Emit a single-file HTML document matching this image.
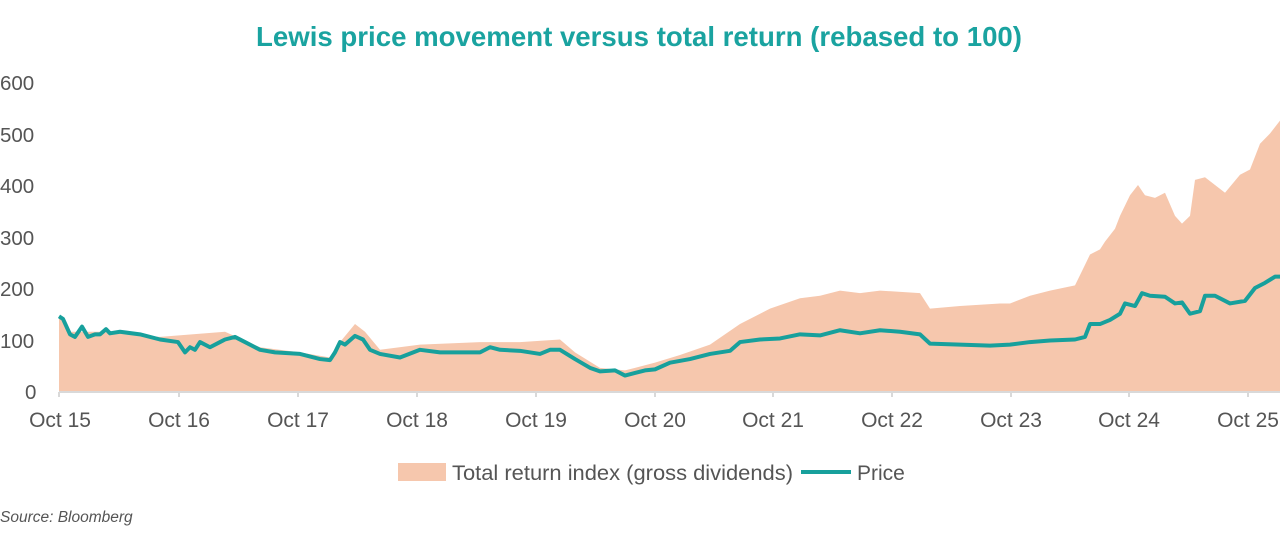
<!DOCTYPE html>
<html><head><meta charset="utf-8"><style>
body{margin:0;background:#fff;width:1280px;height:546px;overflow:hidden;font-family:"Liberation Sans",sans-serif}
</style></head><body>
<svg width="1280" height="546" xmlns="http://www.w3.org/2000/svg" font-family="Liberation Sans, sans-serif">
<text x="639" y="46" text-anchor="middle" font-size="28" font-weight="bold" fill="#1aa3a0" textLength="766" lengthAdjust="spacingAndGlyphs">Lewis price movement versus total return (rebased to 100)</text>
<g font-size="20.5" fill="#555">
<text x="0" y="90">600</text><text x="0" y="142">500</text><text x="0" y="193">400</text>
<text x="0" y="245">300</text><text x="0" y="296">200</text><text x="0" y="348">100</text><text x="25" y="399">0</text>
</g>
<g transform="translate(0,391) scale(1,-0.515)">
<polygon fill="#f6c7ad" points="59,0 59,145 70,115 100,115 160,105 225,115 260,85 300,75 330,65 340,95 355,130 365,115 380,80 420,90 480,95 520,95 560,100 575,75 600,45 625,40 655,55 680,70 710,90 740,130 770,160 800,180 820,185 840,195 860,190 880,195 920,190 930,160 960,165 1000,170 1010,170 1030,185 1050,195 1075,205 1085,245 1090,265 1100,275 1105,290 1115,315 1120,340 1130,380 1138,400 1145,380 1155,375 1165,385 1175,340 1182,325 1190,340 1195,410 1205,415 1215,400 1225,385 1240,420 1250,430 1260,480 1270,500 1280,525 1280,0"/>
<polyline fill="none" stroke="#17a09c" stroke-width="4" vector-effect="non-scaling-stroke" stroke-linejoin="round" points="59,145 63,140 70,110 75,105 82,125 88,105 95,110 100,110 106,120 110,112 120,115 140,110 160,100 178,95 185,75 190,85 195,80 200,95 210,85 220,95 225,100 235,105 245,95 260,80 275,75 300,72 320,62 330,60 335,75 340,95 345,90 355,107 363,100 370,80 380,72 400,65 420,80 440,75 460,75 480,75 490,85 500,80 520,78 540,72 550,80 560,80 575,62 590,45 600,38 615,40 625,30 635,35 645,40 655,42 670,55 690,62 710,72 730,78 740,95 760,100 780,102 800,110 820,108 840,118 860,112 880,118 900,115 920,110 930,92 960,90 990,88 1010,90 1030,95 1050,98 1075,100 1085,105 1090,130 1100,130 1110,138 1120,150 1125,170 1135,165 1142,190 1150,185 1165,183 1175,170 1182,172 1190,150 1200,155 1205,185 1215,185 1230,170 1245,175 1255,200 1265,210 1275,222 1280,222"/>
</g>
<line x1="59" y1="392" x2="1280" y2="392" stroke="#d9d9d9" stroke-width="2"/>
<g stroke="#d9d9d9" stroke-width="2">
<line x1="59" y1="392" x2="59" y2="397"/><line x1="179" y1="392" x2="179" y2="397"/><line x1="298" y1="392" x2="298" y2="397"/><line x1="417" y1="392" x2="417" y2="397"/><line x1="536" y1="392" x2="536" y2="397"/><line x1="655" y1="392" x2="655" y2="397"/><line x1="773" y1="392" x2="773" y2="397"/><line x1="892" y1="392" x2="892" y2="397"/><line x1="1011" y1="392" x2="1011" y2="397"/><line x1="1129" y1="392" x2="1129" y2="397"/><line x1="1248" y1="392" x2="1248" y2="397"/>
</g>
<g font-size="21" fill="#555" text-anchor="middle">
<text x="60" y="427">Oct 15</text><text x="179" y="427">Oct 16</text><text x="298" y="427">Oct 17</text><text x="417" y="427">Oct 18</text><text x="536" y="427">Oct 19</text><text x="655" y="427">Oct 20</text><text x="773" y="427">Oct 21</text><text x="892" y="427">Oct 22</text><text x="1011" y="427">Oct 23</text><text x="1129" y="427">Oct 24</text><text x="1248" y="427">Oct 25</text>
</g>
<rect x="398" y="463" width="48" height="18" fill="#f6c7ad"/>
<text x="452" y="480" font-size="21" fill="#555" textLength="341" lengthAdjust="spacingAndGlyphs">Total return index (gross dividends)</text>
<line x1="801" y1="472" x2="851" y2="472" stroke="#17a09c" stroke-width="4"/>
<text x="857" y="480" font-size="21" fill="#555">Price</text>
<text x="0" y="522" font-size="15.5" font-style="italic" fill="#555">Source: Bloomberg</text>
</svg>
</body></html>
